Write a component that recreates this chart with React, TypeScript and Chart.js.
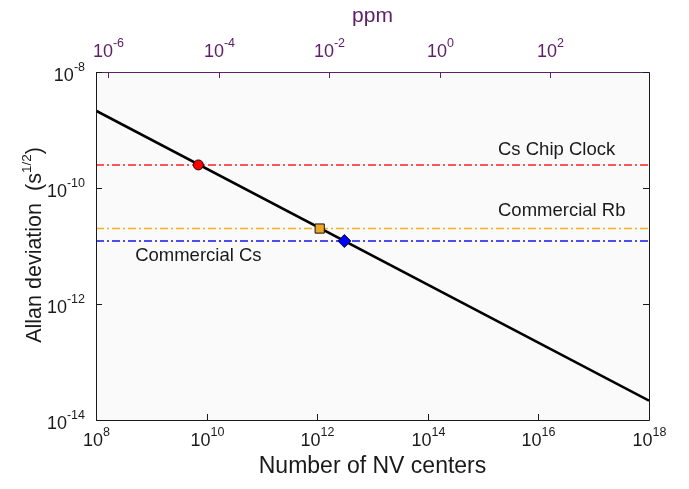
import React, { useEffect, useRef } from "react";
import { Chart, registerables } from "chart.js";
Chart.register(...registerables);

// ---- data ----
const nvCenters = [1e8, 1e18];
const allanDeviation = [2.15e-9, 2.15e-14];

const refNames = ["Cs Chip Clock", "Commercial Rb", "Commercial Cs"];
const refLevels = [2.5e-10, 2.0e-11, 1.22e-11];
const refColors = ["#ff1f1f", "#f0b21e", "#1414e6"];
const refSpan = [1e8, 1e18];

const crossingN = [7.1e9, 1.11e12, 3.1e12];
const crossingY = [2.5e-10, 2.0e-11, 1.22e-11];
const crossingFill = ["#ff0000", "#eda62a", "#0000ff"];
const crossingStyle = ["circle", "rect", "rectRot"];
const crossingRadius = [5, 6.5, 6.5];

const labelN = [1.86e15, 1.86e15, 5.1e8];
const labelY = [4.5e-10, 4.0e-11, 6.8e-12];

const xTickExps = [8, 10, 12, 14, 16, 18];
const yTickExps = [-8, -10, -12, -14];
const ppmTickExps = [-6, -4, -2, 0, 2];
const ppmRange = [Math.pow(10, -6.217), Math.pow(10, 3.783)];

const FONT = '"Liberation Sans", Arial, sans-serif';
const PURPLE = "#5e2068";
const INK = "#1a1a1a";

function powLabel(
  ctx: CanvasRenderingContext2D,
  exp: number,
  x: number,
  y: number,
  align: "center" | "right",
  color: string
) {
  const base = "10";
  const sup = String(exp);
  ctx.font = `18px ${FONT}`;
  const wb = ctx.measureText(base).width;
  ctx.font = `12.5px ${FONT}`;
  const ws = ctx.measureText(sup).width;
  const total = wb + ws;
  const x0 = align === "center" ? x - total / 2 : x - total;
  ctx.fillStyle = color;
  ctx.textAlign = "left";
  ctx.textBaseline = "middle";
  ctx.font = `18px ${FONT}`;
  ctx.fillText(base, x0, y);
  ctx.font = `12.5px ${FONT}`;
  ctx.fillText(sup, x0 + wb, y - 8.5);
}

const decor = {
  id: "decor",
  beforeDatasetsDraw(chart: any) {
    const { ctx, chartArea: a } = chart;
    ctx.save();
    ctx.fillStyle = "#fafafa";
    ctx.fillRect(a.left, a.top, a.right - a.left, a.bottom - a.top);
    ctx.restore();
  },
  afterDatasetsDraw(chart: any) {
    const { ctx, chartArea: a, scales } = chart;
    const sx = scales.x, sy = scales.y, sp = scales.x2;
    const tl = 6;
    ctx.save();
    // frame
    ctx.lineWidth = 1;
    ctx.strokeStyle = INK;
    ctx.beginPath();
    ctx.moveTo(a.left + 0.5, a.top);
    ctx.lineTo(a.left + 0.5, a.bottom + 0.5);
    ctx.lineTo(a.right + 0.5, a.bottom + 0.5);
    ctx.lineTo(a.right + 0.5, a.top);
    ctx.stroke();
    ctx.strokeStyle = PURPLE;
    ctx.beginPath();
    ctx.moveTo(a.left, a.top + 0.5);
    ctx.lineTo(a.right + 1, a.top + 0.5);
    ctx.stroke();

    // bottom ticks + labels
    ctx.strokeStyle = INK;
    xTickExps.forEach((e) => {
      const px = Math.round(sx.getPixelForValue(Math.pow(10, e))) + 0.5;
      ctx.beginPath();
      ctx.moveTo(px, a.bottom);
      ctx.lineTo(px, a.bottom - tl);
      ctx.stroke();
      powLabel(ctx, e, px, a.bottom + 21, "center", INK);
    });
    // left/right ticks + labels
    yTickExps.forEach((e) => {
      const py = Math.round(sy.getPixelForValue(Math.pow(10, e))) + 0.5;
      ctx.strokeStyle = INK;
      ctx.beginPath();
      ctx.moveTo(a.left, py);
      ctx.lineTo(a.left + tl, py);
      ctx.moveTo(a.right, py);
      ctx.lineTo(a.right - tl, py);
      ctx.stroke();
      powLabel(ctx, e, a.left - 11, py + 3.5, "right", INK);
    });
    // top ppm ticks + labels
    ctx.strokeStyle = PURPLE;
    ppmTickExps.forEach((e) => {
      const px = Math.round(sp.getPixelForValue(Math.pow(10, e))) + 0.5;
      ctx.beginPath();
      ctx.moveTo(px, a.top);
      ctx.lineTo(px, a.top + tl);
      ctx.stroke();
      powLabel(ctx, e, px, a.top - 20, "center", PURPLE);
    });

    // annotations
    ctx.fillStyle = INK;
    ctx.font = `18.5px ${FONT}`;
    ctx.textAlign = "left";
    ctx.textBaseline = "middle";
    refNames.forEach((n, i) => {
      ctx.fillText(n, sx.getPixelForValue(labelN[i]), sy.getPixelForValue(labelY[i]));
    });

    // axis titles
    ctx.font = `23px ${FONT}`;
    ctx.textAlign = "center";
    ctx.textBaseline = "middle";
    ctx.fillStyle = INK;
    ctx.fillText("Number of NV centers", (a.left + a.right) / 2, 467);
    ctx.font = `21px ${FONT}`;
    ctx.fillStyle = PURPLE;
    ctx.fillText("ppm", (a.left + a.right) / 2, 16);

    // y title with superscript
    const t1 = "Allan deviation  (s";
    const t2 = "1/2";
    const t3 = ")";
    ctx.font = `21.5px ${FONT}`;
    const w1 = ctx.measureText(t1).width;
    const w3 = ctx.measureText(t3).width;
    ctx.font = `13.5px ${FONT}`;
    const w2 = ctx.measureText(t2).width;
    const total = w1 + w2 + w3;
    ctx.translate(35, 245);
    ctx.rotate(-Math.PI / 2);
    ctx.fillStyle = INK;
    ctx.textAlign = "left";
    const x0 = -total / 2;
    ctx.font = `21.5px ${FONT}`;
    ctx.fillText(t1, x0, 0);
    ctx.font = `13.5px ${FONT}`;
    ctx.fillText(t2, x0 + w1, -8);
    ctx.font = `21.5px ${FONT}`;
    ctx.fillText(t3, x0 + w1 + w2, 0);
    ctx.restore();
  },
};

export default function App() {
  const ref = useRef<HTMLCanvasElement>(null);
  useEffect(() => {
    const canvas = ref.current;
    if (!canvas) return;
    const datasets: any[] = [];
    refNames.forEach((name, i) => {
      datasets.push({
        label: name,
        data: refSpan.map((n) => ({ x: n, y: refLevels[i] })),
        borderColor: refColors[i],
        borderWidth: 1.5,
        borderDash: [8, 3, 2, 3],
        pointRadius: 0,
        showLine: true,
        order: 3,
      });
    });
    datasets.push({
      label: "NV ensemble",
      data: nvCenters.map((n, i) => ({ x: n, y: allanDeviation[i] })),
      borderColor: "#000000",
      borderWidth: 2.5,
      pointRadius: 0,
      showLine: true,
      order: 2,
    });
    crossingN.forEach((n, i) => {
      datasets.push({
        label: refNames[i] + " crossing",
        data: [{ x: n, y: crossingY[i] }],
        pointStyle: crossingStyle[i],
        pointRadius: crossingRadius[i],
        backgroundColor: crossingFill[i],
        borderColor: "#111111",
        borderWidth: 1,
        showLine: false,
        order: 1,
      });
    });
    const chart = new Chart(canvas, {
      type: "scatter",
      data: { datasets },
      options: {
        responsive: false,
        animation: false,
        devicePixelRatio: 1,
        layout: { padding: { left: 96, top: 72, right: 40, bottom: 69 } },
        plugins: { legend: { display: false }, tooltip: { enabled: false } },
        scales: {
          x: { type: "logarithmic", min: 1e8, max: 1e18, display: false },
          x2: {
            type: "logarithmic",
            position: "top",
            min: ppmRange[0],
            max: ppmRange[1],
            display: false,
          },
          y: { type: "logarithmic", min: 1e-14, max: 1e-8, display: false },
        },
      },
      plugins: [decor],
    });
    return () => chart.destroy();
  }, []);
  return (
    <div style={{ position: "absolute", left: 0, top: 0, width: 689, height: 489, background: "#fff" }}>
      <canvas ref={ref} width={689} height={489} />
    </div>
  );
}
